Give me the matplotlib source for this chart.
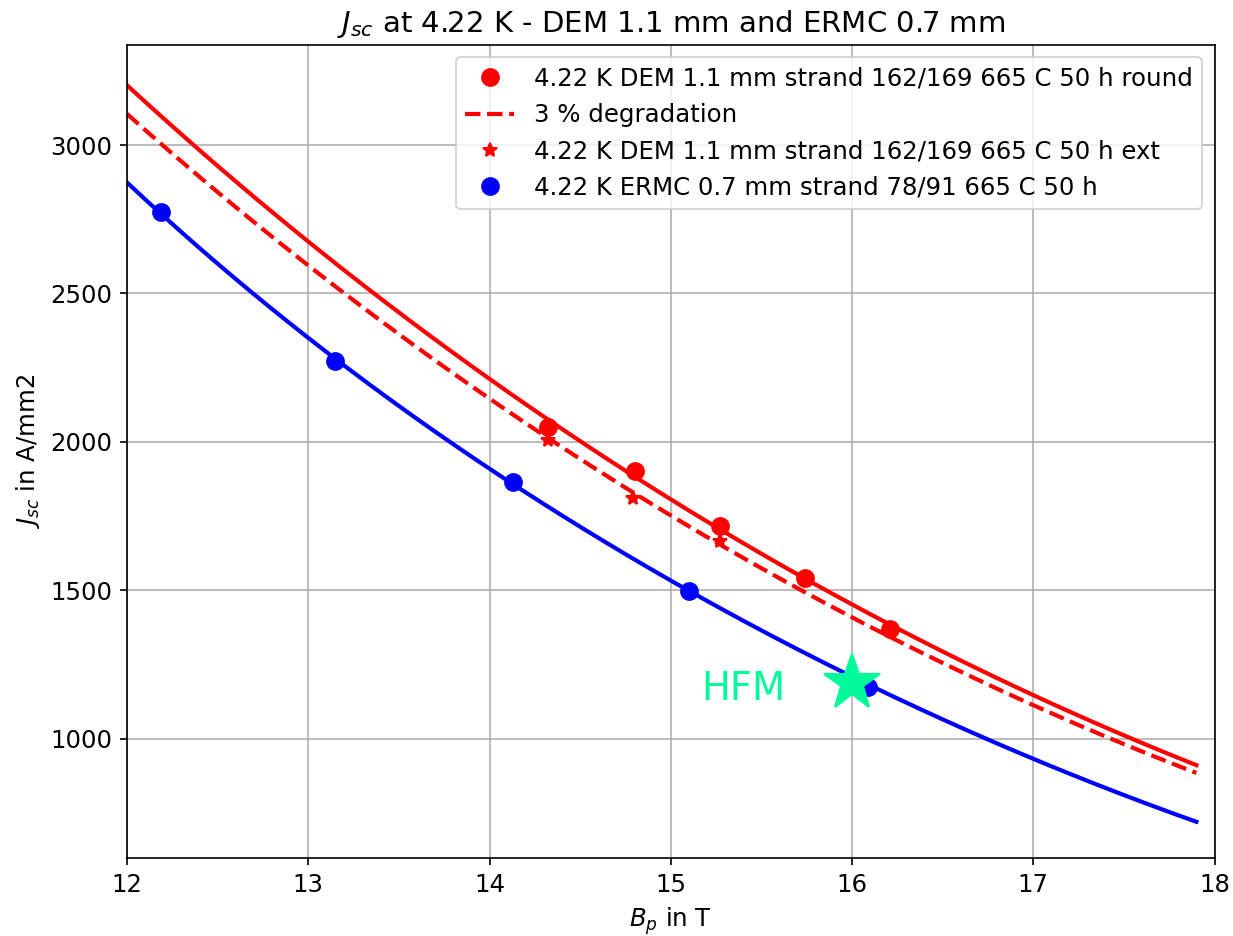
import numpy as np
import matplotlib
matplotlib.use("Agg")
import matplotlib.pyplot as plt

# Measured strand data (B in T, Jc in A/mm2)
dem_round_B = [14.32, 14.80, 15.27, 15.74, 16.21]
dem_round_J = [2052, 1901, 1718, 1541, 1370]

dem_ext_B = [14.32, 14.79, 15.27]
dem_ext_J = [2007, 1813, 1665]

ermc_B = [12.19, 13.15, 14.13, 15.10, 16.09]
ermc_J = [2775, 2271, 1865, 1498, 1176]

# Fit curves
fit_B = [12.0, 13.0, 13.5, 14.0, 15.0, 16.0, 17.0, 17.5, 17.9]
dem_fit_J = [3201, 2677, 2437, 2203, 1822, 1441, 1148, 1019, 908]
dem_degr_J = [3105, 2595, 2364, 2138, 1767, 1398, 1114, 989, 882]
ermc_fit_J = [2873, 2349, 2125, 1911, 1532, 1207, 933, 816, 718]

# HFM operating point
hfm_B = 16.0
hfm_J = 1190

FIGURE_SIZE = (8.22, 6.24)
HFM_COLOR = "mediumspringgreen"

plt.rcParams["font.size"] = 11.7


def smooth_fit(b, j, b_fine):
    # cubic fit in log space, evaluated on a fine field grid
    coeffs = np.polyfit(b, np.log(j), 3)
    return np.exp(np.polyval(coeffs, b_fine))


b_fine = np.linspace(fit_B[0], fit_B[-1], 300)

fig = plt.figure(figsize=FIGURE_SIZE, dpi=150)
ax = fig.add_axes([0.103, 0.083, 0.882, 0.869])

ax.plot(dem_round_B, dem_round_J, "ro", markersize=8,
        label="4.22 K DEM 1.1 mm strand 162/169 665 C 50 h round")
ax.plot(b_fine, smooth_fit(fit_B, dem_fit_J, b_fine), "r-", linewidth=2)
ax.plot(b_fine, smooth_fit(fit_B, dem_degr_J, b_fine), "r--", linewidth=2,
        label="3 % degradation")
ax.plot(dem_ext_B, dem_ext_J, "r*", markersize=7,
        label="4.22 K DEM 1.1 mm strand 162/169 665 C 50 h ext")
ax.plot(ermc_B, ermc_J, "bo", markersize=8,
        label="4.22 K ERMC 0.7 mm strand 78/91 665 C 50 h")
ax.plot(b_fine, smooth_fit(fit_B, ermc_fit_J, b_fine), "b-", linewidth=2)

ax.plot(hfm_B, hfm_J, "*", color=HFM_COLOR, markersize=28)
ax.text(15.17, 1131, "HFM", color=HFM_COLOR, fontsize=18.5)

ax.set_xlim(12, 18)
ax.set_ylim(598, 3337)
ax.grid(True)
ax.set_title("$J_{sc}$ at 4.22 K - DEM 1.1 mm and ERMC 0.7 mm", fontsize=14)
ax.set_xlabel("$B_p$ in T")
ax.set_ylabel("$J_{sc}$ in A/mm2")
ax.legend(loc="upper right")

fig.savefig("out.png", dpi=150)
